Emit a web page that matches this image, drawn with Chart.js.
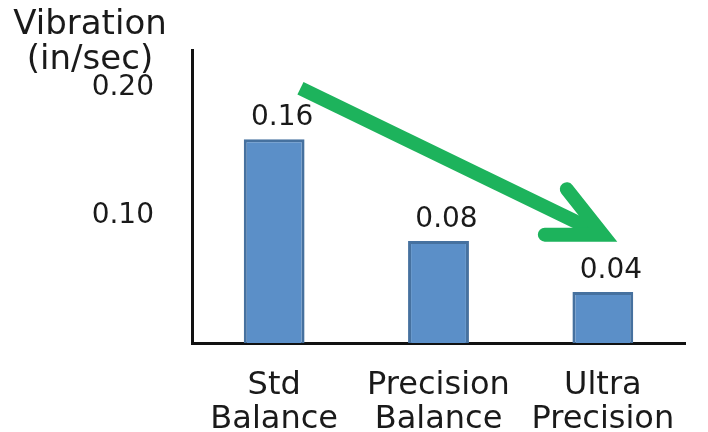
<!DOCTYPE html>
<html>
<head>
<meta charset="utf-8">
<script src="https://cdn.jsdelivr.net/npm/chart.js@4.4.1/dist/chart.umd.min.js"></script>
<style>
  body { margin: 0; background: #fff; }
</style>
</head>
<body>
<canvas id="myChart" width="708" height="432"></canvas>
<script>
const categories = [['Std', 'Balance'], ['Precision', 'Balance'], ['Ultra', 'Precision']];
const vibration = [0.16, 0.08, 0.04];
const yTicks = [0.10, 0.20];
const axisTitle = ['Vibration', '(in/sec)'];
// arrow in data units: x = category index, y = in/sec
const arrowFrom = { x: 0.16, y: 0.2 };
const arrowTo = { x: 2.0, y: 0.085 };

const FONT = '"DejaVu Sans", sans-serif';

const extras = {
  id: 'extras',
  afterDraw(chart) {
    const c = chart.ctx;
    const area = chart.chartArea;
    const xs = chart.scales.x, ys = chart.scales.y;

    c.save();
    c.fillStyle = '#1a1a1a';
    c.textAlign = 'center';
    c.textBaseline = 'middle';

    // axis title, horizontal at top left
    c.font = '34px ' + FONT;
    c.fillText(axisTitle[0], area.left - 102, area.top - 25);
    c.fillText(axisTitle[1], area.left - 102, area.top + 10);

    // value labels above bars
    c.font = '28px ' + FONT;
    c.textBaseline = 'alphabetic';
    chart.getDatasetMeta(0).data.forEach((bar, i) => {
      c.fillText(vibration[i].toFixed(2), bar.x + 8, bar.y - 14);
    });

    // green arrow
    const x0 = xs.getPixelForValue(arrowFrom.x), y0 = ys.getPixelForValue(arrowFrom.y);
    const x1 = xs.getPixelForValue(arrowTo.x), y1 = ys.getPixelForValue(arrowTo.y);
    const ang = Math.atan2(y1 - y0, x1 - x0);
    c.strokeStyle = '#1db35c';
    c.lineWidth = 14;
    c.lineCap = 'butt';
    c.beginPath();
    c.moveTo(x0, y0);
    c.lineTo(x1 - 8 * Math.cos(ang), y1 - 8 * Math.sin(ang));
    c.stroke();
    const len = 58, spread = 0.45;
    c.lineCap = 'round';
    c.lineJoin = 'miter';
    c.beginPath();
    c.moveTo(x1 - len * Math.cos(ang - spread), y1 - len * Math.sin(ang - spread));
    c.lineTo(x1, y1);
    c.lineTo(x1 - len * Math.cos(ang + spread), y1 - len * Math.sin(ang + spread));
    c.stroke();
    c.restore();
  }
};

const ctx = document.getElementById('myChart').getContext('2d');
const myChart = new Chart(ctx, {
  type: 'bar',
  data: {
    labels: categories,
    datasets: [
      {
        label: 'Vibration',
        data: vibration,
        backgroundColor: '#5b8fc8',
        borderColor: '#46719f',
        borderWidth: 3,
        barPercentage: 0.37,
        categoryPercentage: 1
      }
    ]
  },
  options: {
    responsive: false,
    animation: false,
    layout: { padding: { top: 50, left: 92, right: 23, bottom: 0 } },
    plugins: {
      legend: { display: false },
      tooltip: { enabled: false }
    },
    scales: {
      x: {
        afterFit: (scale) => { scale.height = 89; },
        grid: { display: false, drawTicks: false },
        border: { display: true, color: '#111', width: 3 },
        ticks: {
          color: '#1a1a1a',
          padding: 26,
          maxRotation: 0,
          autoSkip: false,
          font: { family: FONT, size: 32, lineHeight: 1.06 }
        }
      },
      y: {
        min: 0,
        max: 0.23,
        afterBuildTicks: (scale) => { scale.ticks = yTicks.map(v => ({ value: v })); },
        afterFit: (scale) => { scale.width = 100; },
        // invisible tick marks give the gap between labels and axis
        grid: { display: true, drawOnChartArea: false, drawTicks: true, tickLength: 38, color: 'rgba(0,0,0,0)' },
        border: { display: true, color: '#111', width: 3 },
        ticks: {
          color: '#1a1a1a',
          padding: 0,
          callback: (v) => v.toFixed(2),
          font: { family: FONT, size: 28 }
        }
      }
    }
  },
  plugins: [extras]
});
</script>
</body>
</html>
